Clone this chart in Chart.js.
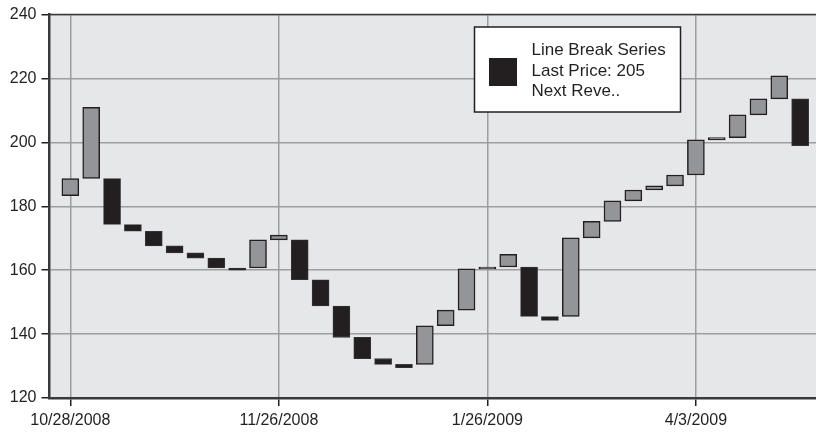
<!DOCTYPE html>
<html>
<head>
<meta charset="utf-8">
<script src="https://cdn.jsdelivr.net/npm/chart.js@4.4.1/dist/chart.umd.min.js"></script>
<style>
  html, body { margin: 0; padding: 0; background: #ffffff; overflow: hidden; width: 816px; height: 433px; }
  #wrap { position: relative; width: 822px; height: 433px; }
</style>
</head>
<body>
<div id="wrap"><canvas id="c"></canvas></div>
<script>
// ---- Data ----
const blockStart = [183.3, 188.7, 188.7, 174.3, 172.2, 167.6, 165.4, 163.8, 160.7, 160.7,
                    169.5, 169.5, 157.0, 148.8, 139.0, 132.3, 130.5, 130.5, 142.6, 147.5,
                    160.4, 161.0, 161.0, 145.5, 145.5, 170.1, 175.3, 181.7, 185.1, 186.4,
                    189.8, 200.8, 201.5, 208.6, 213.6, 213.6];
const blockEnd   = [188.7, 211.0, 174.3, 172.2, 167.6, 165.4, 163.8, 160.7, 160.0, 169.5,
                    171.0, 157.0, 148.8, 139.0, 132.3, 130.5, 129.5, 142.6, 147.5, 160.4,
                    161.0, 165.0, 145.5, 144.3, 170.1, 175.3, 181.7, 185.1, 186.4, 189.8,
                    200.8, 201.5, 208.6, 213.6, 220.8, 199.0];
const tickIndex  = [0, 10, 20, 30];
const tickLabels = ['10/28/2008', '11/26/2008', '1/26/2009', '4/3/2009'];
const yTicks     = [120, 140, 160, 180, 200, 220, 240];
const legendLines = ['Line Break Series', 'Last Price: 205', 'Next Reve..'];

const UP = '#939598', DOWN = '#231f20', EDGE = '#231f20';

const points = blockStart.map((s, i) => ({ x: i, y: [Math.min(s, blockEnd[i]), Math.max(s, blockEnd[i])] }));
const isUp = blockStart.map((s, i) => blockEnd[i] > s);

const bgPlugin = {
  id: 'bg',
  beforeDraw(chart) {
    const { ctx, chartArea: a } = chart;
    ctx.save();
    ctx.fillStyle = '#e6e7e9';
    ctx.fillRect(a.left, a.top, a.right - a.left, a.bottom - a.top);
    ctx.restore();
  },
  afterDatasetsDraw(chart) {
    const { ctx, chartArea: a } = chart;
    ctx.save();
    // top frame line
    ctx.strokeStyle = '#3a3a3a';
    ctx.lineWidth = 1.5;
    ctx.beginPath();
    ctx.moveTo(a.left, a.top);
    ctx.lineTo(a.right, a.top);
    ctx.stroke();
    // legend box
    const bx = 474.5, by = 27, bw = 206, bh = 85;
    ctx.fillStyle = '#ffffff';
    ctx.fillRect(bx, by, bw, bh);
    ctx.strokeStyle = '#231f20';
    ctx.lineWidth = 1.5;
    ctx.strokeRect(bx, by, bw, bh);
    ctx.fillStyle = DOWN;
    ctx.fillRect(489, 58, 28, 28);
    ctx.fillStyle = '#231f20';
    ctx.font = '17px "Liberation Sans", Arial, sans-serif';
    ctx.textBaseline = 'alphabetic';
    ctx.textAlign = 'left';
    legendLines.forEach((t, i) => ctx.fillText(t, 531.5, 55 + i * 20.6));
    ctx.restore();
  }
};

new Chart(document.getElementById('c'), {
  type: 'bar',
  data: {
    datasets: [{
      data: points,
      backgroundColor: isUp.map(u => u ? UP : DOWN),
      borderColor: isUp.map(u => u ? EDGE : '#3a3a3a'),
      borderWidth: isUp.map(u => u ? 1.5 : 0.8),
      borderSkipped: false,
      barThickness: 17,
      grouped: false
    }]
  },
  options: {
    responsive: true,
    maintainAspectRatio: false,
    animation: false,
    layout: { padding: { left: 0, right: 1, top: 14, bottom: 0 } },
    plugins: { legend: { display: false }, tooltip: { enabled: false } },
    scales: {
      x: {
        type: 'linear',
        min: -1,
        max: 36,
        offset: false,
        afterBuildTicks(scale) { scale.ticks = tickIndex.map(v => ({ value: v })); },
        afterFit(scale) { scale.height = 35; },
        ticks: {
          autoSkip: false,
          maxRotation: 0,
          padding: 5,
          color: '#231f20',
          font: { size: 16, family: '"Liberation Sans", Arial, sans-serif' },
          callback(v) { const k = tickIndex.indexOf(v); return k >= 0 ? tickLabels[k] : ''; }
        },
        grid: { offset: false, color: '#9d9ea0', lineWidth: 1.5, tickLength: 8, tickColor: '#231f20', tickWidth: 1.5, drawOnChartArea: true },
        border: { display: true, color: '#3a3a3a', width: 2.5 }
      },
      y: {
        min: 120,
        max: 240,
        afterBuildTicks(scale) { scale.ticks = yTicks.map(v => ({ value: v })); },
        afterFit(scale) { scale.width = 49.5; },
        ticks: {
          padding: 5,
          color: '#231f20',
          font: { size: 16, family: '"Liberation Sans", Arial, sans-serif' }
        },
        grid: { color: '#9d9ea0', lineWidth: 1.5, tickLength: 8, tickColor: '#231f20', tickWidth: 1.5 },
        border: { display: true, color: '#3a3a3a', width: 2.5 }
      }
    }
  },
  plugins: [bgPlugin]
});
</script>
</body>
</html>
